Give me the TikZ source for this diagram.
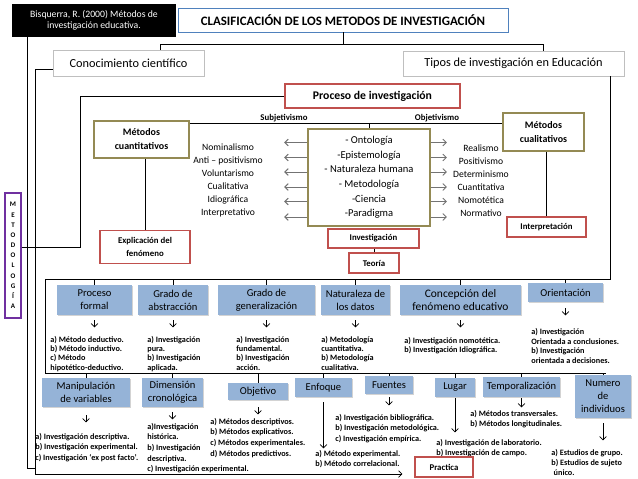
\documentclass[tikz,border=0pt]{standalone}
\usepackage{fontspec}
\setmainfont{Carlito}
\usetikzlibrary{arrows.meta,calc,shadows}
\definecolor{cblue}{HTML}{95B3D7}
\definecolor{cred}{HTML}{C0504D}
\definecolor{ctan}{HTML}{948A54}
\definecolor{cpurple}{HTML}{7030A0}
\definecolor{ctitle}{HTML}{4F81BD}

\begin{document}
\begin{tikzpicture}[x=0.03cm, y=-0.03cm, line width=0.6pt,
      >={Straight Barb[length=1mm,width=2mm]},
      box/.style={align=center, inner sep=1pt, fill=white},
      grey/.style={box, draw=black!25, line width=0.5pt, font=\fontsize{10.5}{12}\selectfont,
                   drop shadow={shadow xshift=0.8pt, shadow yshift=-0.8pt, opacity=0.3}},
      rbox/.style={box, draw=cred, line width=1pt, font=\bfseries\fontsize{7.5}{11}\selectfont},
      tan/.style={box, draw=ctan, line width=1.4pt},
      tipo/.style={box, fill=cblue, font=\fontsize{9}{11}\selectfont,
                   drop shadow={shadow xshift=0.7pt, shadow yshift=-0.9pt, opacity=0.35}},
      lsta/.style={anchor=north west, align=left, inner sep=0pt, font=\bfseries\fontsize{7}{7.9}\selectfont},
      lstb/.style={lsta, font=\bfseries\fontsize{7}{9}\selectfont},
      lbl/.style={align=center, inner sep=0pt, font=\fontsize{8.2}{11.1}\selectfont}]
  \useasboundingbox (0,0) rectangle (638,479);
  % top row
  \node[box, fill=black, text=white, minimum width=4.92cm, minimum height=0.99cm,
        font=\fontsize{8.3}{9}\selectfont] (bis) at (94,20.5) {Bisquerra, R. (2000) Métodos de\\investigación educativa.};
  \node[box, draw=ctitle, line width=0.8pt, minimum width=9.9cm, minimum height=0.72cm,
        font=\bfseries\fontsize{11}{13}\selectfont] (title) at (343,20) {CLASIFICACIÓN DE LOS METODOS DE INVESTIGACIÓN};
  \node[grey, minimum width=4.53cm, minimum height=0.78cm] (cono) at (128.5,63) {Conocimiento científico};
  \node[grey, minimum width=6.63cm, minimum height=0.75cm] (tipos) at (513.5,63.5) {Tipos de investigación en Educación};
  \node[box, draw=cred, line width=1pt, minimum width=5.25cm, minimum height=0.72cm,
        font=\bfseries\fontsize{10}{12}\selectfont] (proc) at (372.5,96) {Proceso de investigación};
  % proceso de investigacion
  \node[tan, minimum width=2.85cm, minimum height=1.11cm, font=\bfseries\fontsize{8.5}{12}\selectfont] (mcuan) at (141.5,139.5) {Métodos\\cuantitativos};
  \node[tan, minimum width=2.43cm, minimum height=1.14cm, font=\bfseries\fontsize{8.5}{12}\selectfont] (mcual) at (543.5,132) {Métodos\\cualitativos};
  \node[tan, minimum width=3.66cm, minimum height=2.91cm, font=\fontsize{9}{12.4}\selectfont] (central) at (369,177.5)
       {- Ontología\\-Epistemología\\- Naturaleza humana\\- Metodología\\-Ciencia\\-Paradigma};
  \node[font=\bfseries\fontsize{7.5}{9}\selectfont, inner sep=0pt] (subj) at (284,118) {Subjetivismo};
  \node[font=\bfseries\fontsize{7.5}{9}\selectfont, inner sep=0pt] (obj) at (437,118) {Objetivismo};
  \node[lbl] (izq) at (228,180.5) {Nominalismo\\Anti – positivismo\\Voluntarismo\\Cualitativa\\Idiográfica\\Interpretativo};
  \node[lbl] (der) at (481,180.5) {Realismo\\Positivismo\\Determinismo\\Cuantitativa\\Nomotética\\Normativo};
  \node[rbox, minimum width=2.7cm, minimum height=0.99cm] (expl) at (145,247) {Explicación del\\fenómeno};
  \node[rbox, minimum width=2.73cm, minimum height=0.57cm] (inv) at (373.5,238.5) {Investigación};
  \node[rbox, minimum width=1.5cm, minimum height=0.6cm] (teo) at (374,263) {Teoría};
  \node[rbox, minimum width=2.37cm, minimum height=0.6cm] (interp) at (546.5,227) {Interpretación};
  \node[box, draw=cpurple, line width=1.4pt, minimum width=0.48cm, minimum height=3.75cm, inner sep=0pt,
        font=\bfseries\fontsize{6}{8.7}\selectfont] (metod) at (13,255.5) {M\\E\\T\\O\\D\\O\\L\\O\\G\\Í\\A};
  % tipos, primera fila
  \node[tipo, minimum width=2.25cm, minimum height=0.9cm] (pf) at (94.5,300) {Proceso\\formal};
  \node[tipo, minimum width=2.1cm, minimum height=0.9cm] (ga) at (173,300) {Grado de\\abstracción};
  \node[tipo, minimum width=2.91cm, minimum height=0.9cm] (gg) at (266.5,300) {Grado de\\generalización};
  \node[tipo, minimum width=2.07cm, minimum height=0.9cm] (nat) at (355.5,300) {Naturaleza de\\los datos};
  \node[tipo, minimum width=3.63cm, minimum height=0.9cm, font=\fontsize{9.8}{11}\selectfont] (conc) at (460.5,300) {Concepción del\\fenómeno educativo};
  \node[tipo, minimum width=2.25cm, minimum height=0.57cm] (ori) at (565.5,292.5) {Orientación};
  \node[lsta] (pfl) at (50,336) {a) Método deductivo.\\b) Método inductivo.\\c) Método\\hipotético-deductivo.};
  \node[lsta] (gal) at (147,336) {a) Investigación\\pura.\\b) Investigación\\aplicada.};
  \node[lsta] (ggl) at (236,336) {a) Investigación\\fundamental.\\b) Investigación\\acción.};
  \node[lsta] (natl) at (321,336) {a) Metodología\\cuantitativa.\\b) Metodología\\cualitativa.};
  \node[lsta] (concl) at (404,337) {a) Investigación nomotética.\\b) Investigación Idiográfica.};
  \node[lsta, font=\bfseries\fontsize{7}{8.2}\selectfont] (oril) at (531,328) {a) Investigación\\Orientada a conclusiones.\\b) Investigación\\orientada a decisiones.};
  % tipos, segunda fila
  \node[tipo, minimum width=2.64cm, minimum height=0.87cm] (manip) at (86,392.5) {Manipulación\\de variables};
  \node[tipo, minimum width=1.83cm, minimum height=0.87cm] (dim) at (172.5,392.5) {Dimensión\\cronológica};
  \node[tipo, minimum width=1.8cm, minimum height=0.51cm] (objt) at (258,391.5) {Objetivo};
  \node[tipo, minimum width=1.71cm, minimum height=0.57cm] (enf) at (323.5,387.5) {Enfoque};
  \node[tipo, minimum width=1.44cm, minimum height=0.54cm] (fue) at (389,385) {Fuentes};
  \node[tipo, minimum width=1.2cm, minimum height=0.57cm] (lug) at (455,387.5) {Lugar};
  \node[tipo, minimum width=2.31cm, minimum height=0.6cm] (temp) at (521.5,387) {Temporalización};
  \node[tipo, minimum width=1.68cm, minimum height=1.29cm] (num) at (603,396.5) {Numero\\de\\individuos};
  \node[lstb] (manipl) at (35,433) {a) Investigación descriptiva.\\b) Investigación experimental.\\c) Investigación ‘ex post facto’.};
  \node[lstb] (diml) at (147,423) {a)Investigación\\histórica.\\b) Investigación\\descriptiva.\\c) Investigación experimental.};
  \node[lstb] (objl) at (210,418) {a) Métodos descriptivos.\\b) Métodos explicativos.\\c) Métodos experimentales.\\d) Métodos predictivos.};
  \node[lstb] (enfl) at (315,450) {a) Método experimental.\\b) Método correlacional.};
  \node[lstb] (fuel) at (335,414) {a) Investigación bibliográfica.\\b) Investigación metodológica.\\c) Investigación empírica.};
  \node[lstb] (lugl) at (436,439) {a) Investigación de laboratorio.\\b) Investigación de campo.};
  \node[lstb] (templ) at (470,410) {a) Métodos transversales.\\b) Métodos longitudinales.};
  \node[lstb, font=\bfseries\fontsize{7}{8.5}\selectfont] (numl) at (551,449) {a) Estudios de grupo.\\b) Estudios de sujeto\\\hspace{2pt}único.};
  \node[rbox, minimum width=1.74cm, minimum height=0.6cm] (practica) at (444,467) {Practica};
  % conectores
  \coordinate (tj) at (343,44);
  \coordinate (ck) at (160,44);
  \coordinate (tk) at (543,44);
  \coordinate (bk) at (27,468);
  \coordinate (ck2) at (35,69);
  \coordinate (pb) at (35,474);
  \coordinate (pk) at (80,96);
  \coordinate (mk) at (21,247);
  \coordinate (sk) at (369,123);
  \coordinate (t0) at (610,279);
  \coordinate (t1) at (45,279);
  \coordinate (t2) at (45,373);
  \coordinate (t3) at (606,373);
  \draw (title.south) -- (tj);
  \draw (cono.north -| ck) -- (ck) -- (tk) -- (tipos.north -| tk);
  \draw (bis.south -| bk) -- (bk) -- (bk -| pb);
  \draw[->, shorten >=3.6mm] (ck2 -| cono.west) -- (ck2) -- (pb) -- (pb -| practica.west);
  \draw (proc.west) -- (pk) -- (pk |- mk) -- (mk -| metod.east);
  \draw (sk -| mcuan.east) -- (sk -| mcual.west);
  \draw (sk) -- (central.north);
  \draw (mcuan.south -| expl.north) -- (expl.north);
  \draw (mcual.south -| interp.north) -- (interp.north);
  \draw (inv.south -| teo.north) -- (teo.north);
  \foreach \d in {-35,-20,-5.5,9.5,24,39.5} {
    \draw[->, black!55, line width=0.8pt] ($(central.west)+(0,\d)$) -- ++(-23,0);
    \draw[->, black!55, line width=0.8pt] ($(central.east)+(0,\d)$) -- ++(16,0);
  }
  \draw (tipos.south -| t0) -- (t0) -- (t1) -- (t2) -- (t3);
  \foreach \b in {pf,ga,gg,nat,conc,ori} \draw (\b.north) -- (\b.north |- t1);
  \foreach \b in {manip,dim,objt,enf,fue,lug,temp,num} \draw (\b.north) -- (\b.north |- t2);
  \foreach \b/\g/\l in {pf/5/7, ga/5/7, gg/5/7, nat/5/7, conc/5/7, ori/6/7, manip/8/7, dim/5/7,
                        objt/7/7, enf/5/46, fue/3/8, lug/1/34, temp/1/9, num/5/17}
    \draw[->] ($(\b.south)+(0,\g)$) -- ++(0,\l);
\end{tikzpicture}
\end{document}
